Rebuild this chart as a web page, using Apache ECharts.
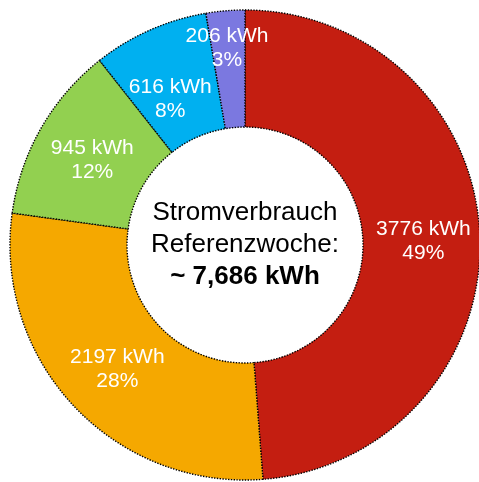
<!DOCTYPE html>
<html>
<head>
<meta charset="utf-8">
<script src="https://cdn.jsdelivr.net/npm/echarts@6/dist/echarts.min.js"></script>
<style>
html,body{margin:0;padding:0;background:#fff;}
#chart{width:479px;height:482px;}
</style>
</head>
<body>
<div id="chart"></div>
<script>
// Data
var categories = ['A', 'B', 'C', 'D', 'E'];
var values = [3776, 2197, 945, 616, 206];
var unit = 'kWh';
var centerLines = ['Stromverbrauch', 'Referenzwoche:', '~ 7,686 kWh'];

// Styles (not data)
var colors = ['#C41E11', '#F5A800', '#92D050', '#00B0F0', '#7B78E0'];
var labelShift = [[-1, 3], [3, 1], [3, 4], [-2, 18], [-3, -18]];
var FONT = '"Liberation Sans", Arial, Helvetica, sans-serif';

var chart = echarts.init(document.getElementById('chart'), null, {renderer: 'canvas'});

var pieData = categories.map(function (c, i) {
  return { name: c, value: values[i], itemStyle: { color: colors[i] } };
});

chart.setOption({
  animation: false,
  backgroundColor: '#ffffff',
  series: [{
    type: 'pie',
    center: [245, 245],
    radius: [118, 235],
    startAngle: 90,
    clockwise: true,
    percentPrecision: 0,
    avoidLabelOverlap: false,
    silent: true,
    itemStyle: {
      borderColor: '#000',
      borderWidth: 1.4,
      borderType: [1.4, 1.4]
    },
    label: {
      show: true,
      position: 'inside',
      rotate: 0,
      formatter: function (p) { return p.value + ' ' + unit + '\n' + p.percent + '%'; },
      color: '#ffffff',
      fontSize: 21,
      lineHeight: 24,
      fontFamily: FONT,
      align: 'center',
      verticalAlign: 'middle'
    },
    labelLine: { show: false },
    labelLayout: function (params) {
      var s = labelShift[params.dataIndex] || [0, 0];
      return { dx: s[0], dy: s[1] };
    },
    data: pieData
  }],
  graphic: [{
    type: 'text',
    x: 245,
    y: 245,
    style: {
      text: '{a|' + centerLines[0] + '}\n{a|' + centerLines[1] + '}\n{b|' + centerLines[2] + '}',
      align: 'center',
      verticalAlign: 'middle',
      rich: {
        a: { fontSize: 26, lineHeight: 32, fontFamily: FONT, fill: '#000', color: '#000' },
        b: { fontSize: 26, lineHeight: 32, fontFamily: FONT, fontWeight: 'bold', fill: '#000', color: '#000' }
      }
    }
  }]
});
</script>
</body>
</html>
